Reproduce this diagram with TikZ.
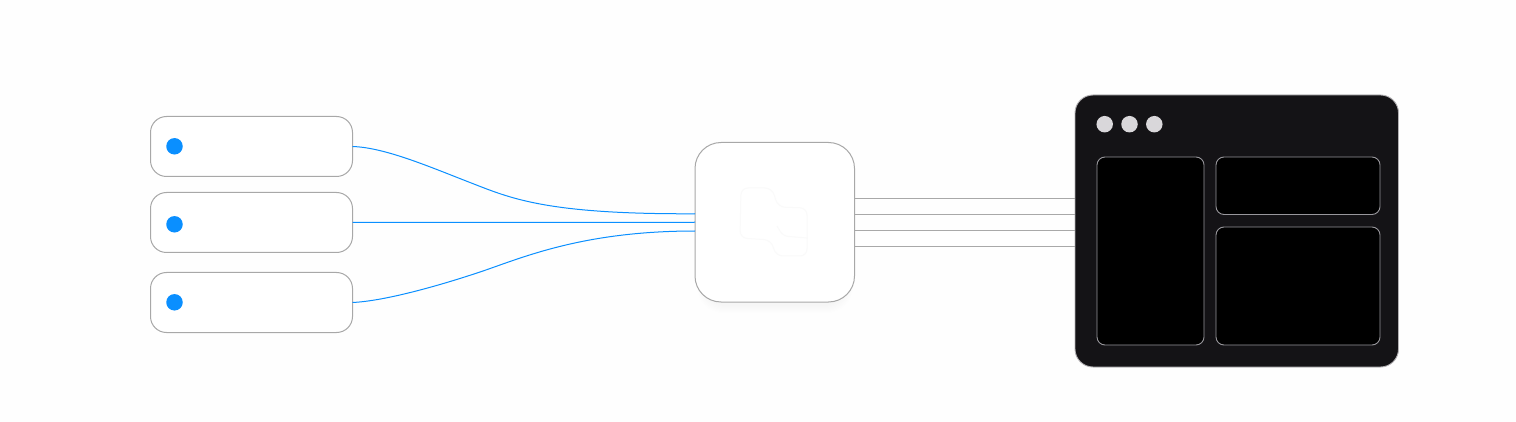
\documentclass[tikz,border=0pt]{standalone}
\usetikzlibrary{calc}
\definecolor{bgc}{HTML}{FEFEFE}
\definecolor{edgec}{HTML}{A8A8A8}
\definecolor{bluec}{HTML}{0A8FFF}
\definecolor{darkc}{HTML}{141316}
\definecolor{dotc}{HTML}{D9D7DA}
\definecolor{panelc}{HTML}{000000}
\definecolor{panele}{HTML}{98979C}
\definecolor{faintc}{HTML}{FAFAFA}
\tikzset{
  box/.style={draw=edgec,line width=1pt,fill=white,rounded corners=#1,inner sep=0pt,outer sep=0pt},
  src/.style={box=16pt,minimum width=202pt,minimum height=60pt},
  hub/.style={box=26pt,minimum width=159.5pt,minimum height=159.5pt},
  win/.style={draw=dotc!80!darkc,line width=0.9pt,fill=darkc,rounded corners=18pt,inner sep=0pt,outer sep=0pt,minimum width=323.5pt,minimum height=272pt},
  panel/.style={draw=panele,line width=0.9pt,fill=panelc,rounded corners=8pt,inner sep=0pt,outer sep=0pt},
  bluedot/.style={circle,fill=bluec,inner sep=0pt,minimum size=16.5pt},
  greydot/.style={circle,fill=dotc,inner sep=0pt,minimum size=16.5pt},
  blueline/.style={draw=bluec,line width=1pt},
  greyline/.style={draw=edgec,line width=1pt},
  faintline/.style={draw=faintc,line width=1pt}
}
\begin{document}
\begin{tikzpicture}[x=1pt,y=-1pt]
\useasboundingbox (0,0) rectangle (1516,422);
\fill[bgc] (0,0) rectangle (1516,422);
% hub soft shadow
\foreach \i in {0,...,7}{
  \fill[black,opacity=0.002,rounded corners=26pt] ({697+\i*0.6},{148+\i*0.4}) rectangle ({853-\i*0.6},{313-\i*1.0});
}
\node[src] (s1) at (251.5,146.5) {};
\node[src] (s2) at (251.5,222.5) {};
\node[src] (s3) at (251.5,302.5) {};
\node[hub] (hub) at (774.75,222.25) {};
\node[win] (win) at (1236.75,231) {};
\node[bluedot] (d1) at (174.5,146.3) {};
\node[bluedot] (d2) at (174.5,224.3) {};
\node[bluedot] (d3) at (174.5,302.3) {};
\node[greydot] (g1) at (1104.7,124.2) {};
\node[greydot] (g2) at (1129.5,124.2) {};
\node[greydot] (g3) at (1154.3,124.2) {};
\node[panel,minimum width=107pt,minimum height=188pt] (p1) at (1150.5,251) {};
\node[panel,minimum width=164pt,minimum height=57.5pt] (p2) at (1298,185.75) {};
\node[panel,minimum width=164pt,minimum height=118pt] (p3) at (1298,286) {};
% faint mark in the hub
\draw[faintline,rounded corners=7pt] (741,188) -- (772,188) -- (778,207) -- (807,208) -- (807,256) -- (776,256) -- (771,240) -- (740,238) -- cycle;
\draw[faintline,rounded corners=5pt] (807,238) -- (783,236) -- (777,226);
% inputs
\coordinate (h1) at ($(hub.west)+(0,-8.5)$);
\coordinate (h3) at ($(hub.west)+(0,8.75)$);
\draw[blueline] (s1.east) .. controls (385,147.5) and (430,167) .. (470,182.5) .. controls (510,198) and (545,214.5) .. (h1);
\draw[blueline] (s2.east) -- (hub.west);
\draw[blueline] (s3.east) .. controls (385,301) and (440,285.5) .. (483,271) .. controls (525,256.5) and (585,231) .. (h3);
% outputs
\foreach \dy in {-24,-8,8,24}{
  \coordinate (o) at ($(hub.east)+(0,\dy)$);
  \draw[greyline] (o) -- (o -| win.west);
}
\end{tikzpicture}
\end{document}
